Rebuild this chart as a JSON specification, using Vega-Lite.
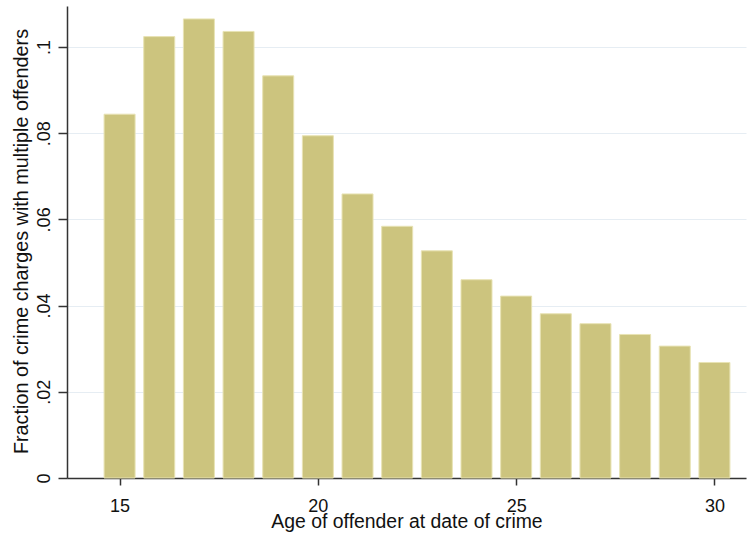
{
  "$schema": "https://vega.github.io/schema/vega-lite/v6.json",
  "width": 679,
  "height": 472,
  "autosize": {"type": "none"},
  "padding": {"left": 67, "top": 6, "right": 5, "bottom": 75},
  "background": "white",
  "view": {"stroke": null},
  "config": {"font": "Liberation Sans"},
  "data": {
    "values": [
      {"age": 15, "fraction": 0.0844},
      {"age": 16, "fraction": 0.1024},
      {"age": 17, "fraction": 0.1065},
      {"age": 18, "fraction": 0.1036},
      {"age": 19, "fraction": 0.0933},
      {"age": 20, "fraction": 0.0794},
      {"age": 21, "fraction": 0.0659},
      {"age": 22, "fraction": 0.0584},
      {"age": 23, "fraction": 0.0527},
      {"age": 24, "fraction": 0.046},
      {"age": 25, "fraction": 0.0422},
      {"age": 26, "fraction": 0.0381},
      {"age": 27, "fraction": 0.0358},
      {"age": 28, "fraction": 0.0333},
      {"age": 29, "fraction": 0.0306},
      {"age": 30, "fraction": 0.0268}
    ]
  },
  "mark": {"type": "bar", "width": 31, "fill": "#CCC47E", "stroke": "#E8E3B4", "strokeWidth": 1},
  "encoding": {
    "x": {
      "field": "age",
      "type": "quantitative",
      "scale": {"domain": [13.8, 30.67], "nice": false, "zero": false},
      "axis": {
        "title": "Age of offender at date of crime",
        "values": [15, 20, 25, 30],
        "grid": false,
        "domainColor": "#333333",
        "domainWidth": 1.5,
        "tickColor": "#333333",
        "tickWidth": 1.5,
        "tickSize": 7,
        "labelFontSize": 18,
        "labelColor": "#111111",
        "labelBaseline": "alphabetic",
        "labelPadding": 26,
        "labelFlush": false,
        "titleFontSize": 19.4,
        "titleFontWeight": "normal",
        "titleColor": "#111111",
        "titleBaseline": "alphabetic",
        "titleY": 49
      }
    },
    "y": {
      "field": "fraction",
      "type": "quantitative",
      "scale": {"domain": [0, 0.1095], "nice": false},
      "axis": {
        "title": "Fraction of crime charges with multiple offenders",
        "values": [0, 0.02, 0.04, 0.06, 0.08, 0.1],
        "labelExpr": "datum.value == 0 ? '0' : replace(format(datum.value, '~g'), '0.', '.')",
        "grid": true,
        "gridColor": "#E6EDF3",
        "gridWidth": 1,
        "domainColor": "#333333",
        "domainWidth": 1.5,
        "tickColor": "#333333",
        "tickWidth": 1.5,
        "tickSize": 9,
        "labelFontSize": 18,
        "labelColor": "#111111",
        "labelAngle": -90,
        "labelAlign": "center",
        "labelBaseline": "alphabetic",
        "labelPadding": 9,
        "labelFlush": false,
        "titleFontSize": 19.8,
        "titleFontWeight": "normal",
        "titleColor": "#111111",
        "titleAngle": -90,
        "titleAlign": "center",
        "titleBaseline": "alphabetic",
        "titleX": -40,
        "titleY": 235
      }
    }
  }
}
